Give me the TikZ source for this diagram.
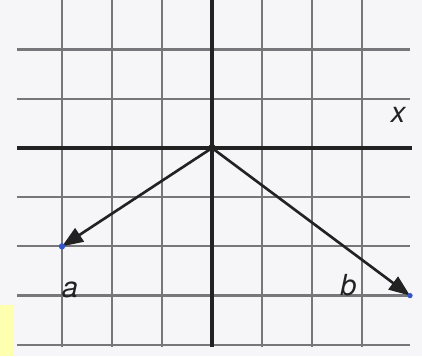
\documentclass[tikz,border=0pt]{standalone}
\usepackage{fontspec}
\setmainfont{TeX Gyre Heros}
\usetikzlibrary{arrows.meta}
\definecolor{bgc}{HTML}{F6F6F9}
\definecolor{gridc}{HTML}{77777B}
\definecolor{axisc}{HTML}{222222}
\definecolor{yel}{HTML}{FFFFB0}
\definecolor{tipc}{HTML}{3355CC}
\tikzset{
  gridline/.style={draw=gridc, line width=1.25pt},
  axisline/.style={draw=axisc, line width=1.9pt},
  vec/.style={draw=axisc, line width=1.5pt, -{Triangle[length=12pt,width=9pt]}},
  lbl/.style={font=\fontsize{16.5}{18}\selectfont\itshape, text=axisc, inner sep=0pt, anchor=base}
}
\begin{document}
\begin{tikzpicture}[x=1cm,y=0.984cm]
\useasboundingbox (-4.24,3.008) rectangle (4.2,-4.228);
\fill[bgc] (-4.24,3.008) rectangle (4.2,-4.228);
\fill[yel] (-4.24,-3.19) rectangle (-3.98,-4.228);
% grid
\foreach \yy in {2,1,-1,-2,-3,-4} \draw[gridline] (-3.9,\yy) -- (3.96,\yy);
\foreach \xx in {-3,-2,-1,1,2,3} \draw[gridline] (\xx,3.01) -- (\xx,-4.05);
% axes
\coordinate (xl) at (-3.9,0);
\coordinate (xr) at (4.0,0);
\coordinate (yt) at (0,3.01);
\coordinate (yb) at (0,-4.05);
\draw[axisline] (xl) -- (xr);
\draw[axisline] (yt) -- (yb);
% vectors
\coordinate (O) at (0,0);
\coordinate (A) at (-3,-2);
\coordinate (B) at (3.96,-3);
\fill[axisc] (O) circle (2.2pt);
\draw[vec] (O) -- (A);
\draw[vec] (O) -- (B);
\fill[tipc] (A) circle (1.8pt);
\fill[tipc] (B) circle (1.5pt);
% labels
\node[lbl] (lx) at (3.72,0.52) {x};
\node[lbl] (la) at (-2.84,-3.04) {a};
\node[lbl] (lb) at (2.73,-3.0) {b};
\end{tikzpicture}
\end{document}
